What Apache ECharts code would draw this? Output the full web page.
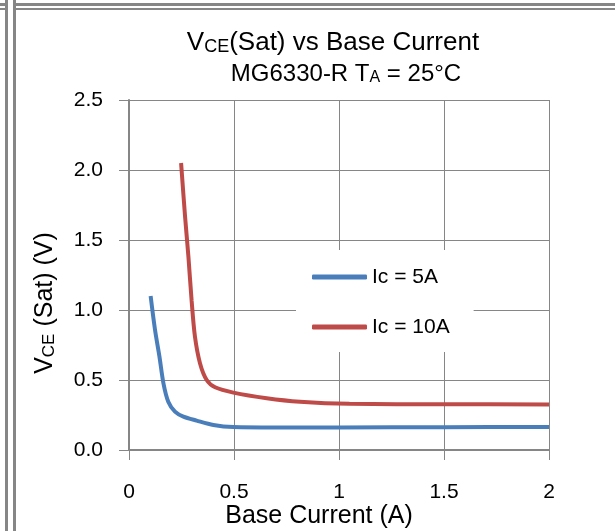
<!DOCTYPE html>
<html>
<head>
<meta charset="utf-8">
<script src="https://cdn.jsdelivr.net/npm/echarts@6/dist/echarts.min.js"></script>
<style>
  html, body { margin: 0; padding: 0; background: #fff; }
  #main { width: 615px; height: 531px; }
</style>
</head>
<body>
<div id="main"></div>
<script>
  // Ic = 5A curve
  var ic5Base = [0.103, 0.124, 0.145, 0.164, 0.187, 0.219, 0.259, 0.322, 0.402, 0.497, 0.7, 1.0, 1.5, 2.0]
  var ic5Vce = [1.10, 0.857, 0.667, 0.476, 0.345, 0.274, 0.238, 0.21, 0.179, 0.164, 0.161, 0.161, 0.163, 0.165]
  // Ic = 10A curve
  var ic10Base = [0.248, 0.267, 0.283, 0.298, 0.314, 0.338, 0.37, 0.41, 0.497, 0.656, 0.814, 1.05, 1.5, 2.0]
  var ic10Vce = [2.05, 1.667, 1.38, 1.07, 0.81, 0.62, 0.5, 0.448, 0.41, 0.37, 0.345, 0.33, 0.327, 0.325]

  var seriesNames = ['Ic = 5A', 'Ic = 10A']
  var xTicks = [0, 0.5, 1, 1.5, 2]
  var yTicks = [0, 0.5, 1.0, 1.5, 2.0, 2.5]

  var gray = '#868686'
  var fontFam = '"Liberation Sans", Arial, sans-serif'

  function pairs(xs, ys) {
    return xs.map(function (x, i) { return [x, ys[i]] })
  }

  var subRich = {
    t: { fontSize: 24, lineHeight: 28, verticalAlign: 'bottom', fontFamily: fontFam, color: '#000' },
    s: { fontSize: 16, lineHeight: 16, verticalAlign: 'bottom', fontFamily: fontFam, color: '#000' },
    h: { fontSize: 26, lineHeight: 28, verticalAlign: 'bottom', fontFamily: fontFam, color: '#000' },
    hs: { fontSize: 18, lineHeight: 16, verticalAlign: 'bottom', fontFamily: fontFam, color: '#000' },
    a: { fontSize: 25, lineHeight: 28, verticalAlign: 'bottom', fontFamily: fontFam, color: '#000' },
    b: { fontSize: 17, lineHeight: 17, verticalAlign: 'bottom', fontFamily: fontFam, color: '#000' }
  }

  var chart = echarts.init(document.getElementById('main'))
  chart.setOption({
    backgroundColor: '#fff',
    animation: false,
    grid: { left: 129, right: 66, top: 100, bottom: 81 },
    xAxis: {
      type: 'value',
      min: xTicks[0],
      max: xTicks[xTicks.length - 1],
      interval: 0.5,
      axisLine: { show: true, lineStyle: { color: gray, width: 2 } },
      axisTick: { show: true, length: 10, lineStyle: { color: gray, width: 1 } },
      axisLabel: { fontSize: 21, color: '#000', margin: 32, fontFamily: fontFam },
      splitLine: { show: true, lineStyle: { color: gray, width: 1 } }
    },
    yAxis: {
      type: 'value',
      min: yTicks[0],
      max: yTicks[yTicks.length - 1],
      interval: 0.5,
      axisLine: { show: true, lineStyle: { color: gray, width: 2 } },
      axisTick: { show: true, length: 10, lineStyle: { color: gray, width: 1 } },
      axisLabel: {
        fontSize: 21, color: '#000', margin: 26, fontFamily: fontFam,
        formatter: function (v) { return v.toFixed(1) }
      },
      splitLine: { show: true, lineStyle: { color: gray, width: 1 } }
    },
    legend: {
      data: seriesNames,
      orient: 'vertical',
      left: 296,
      top: 250,
      backgroundColor: '#fff',
      padding: [16, 24, 14, 16],
      itemWidth: 55,
      itemHeight: 5,
      itemGap: 28,
      icon: 'roundRect',
      textStyle: { fontSize: 21, lineHeight: 22, color: '#000', fontFamily: fontFam }
    },
    series: [
      {
        name: seriesNames[0],
        type: 'line',
        data: pairs(ic5Base, ic5Vce),
        showSymbol: false,
        smooth: 0.3,
        color: '#4A7EBB',
        lineStyle: { width: 4, color: '#4A7EBB' }
      },
      {
        name: seriesNames[1],
        type: 'line',
        data: pairs(ic10Base, ic10Vce),
        showSymbol: false,
        smooth: 0.3,
        color: '#BE4B48',
        lineStyle: { width: 4, color: '#BE4B48' }
      }
    ],
    graphic: [
      // frame lines
      { type: 'rect', shape: { x: 5, y: 0, width: 3, height: 531 }, style: { fill: gray } },
      { type: 'rect', shape: { x: 13, y: 0, width: 3, height: 531 }, style: { fill: gray } },
      { type: 'rect', shape: { x: 0, y: 3, width: 5, height: 3 }, style: { fill: gray } },
      { type: 'rect', shape: { x: 0, y: 8, width: 5, height: 2 }, style: { fill: gray } },
      { type: 'rect', shape: { x: 16, y: 3, width: 599, height: 3 }, style: { fill: gray } },
      { type: 'rect', shape: { x: 16, y: 8, width: 599, height: 2 }, style: { fill: gray } },
      // titles
      {
        type: 'text', x: 333, y: 42,
        style: {
          text: '{h|V}{hs|CE}{h|(Sat) vs Base Current}',
          rich: subRich, textAlign: 'center', textVerticalAlign: 'middle'
        }
      },
      {
        type: 'text', x: 346, y: 72,
        style: {
          text: '{t|MG6330-R T}{s|A}{t| = 25°C}',
          rich: subRich, textAlign: 'center', textVerticalAlign: 'middle'
        }
      },
      {
        type: 'text', x: 319, y: 516,
        style: {
          text: 'Base Current (A)',
          font: '25px ' + fontFam, fill: '#000', textAlign: 'center', textVerticalAlign: 'middle'
        }
      },
      {
        type: 'text', x: 44, y: 303, rotation: Math.PI / 2,
        style: {
          text: '{a|V}{b|CE}{a| (Sat) (V)}',
          rich: subRich, textAlign: 'center', textVerticalAlign: 'middle'
        }
      }
    ]
  })
</script>
</body>
</html>
